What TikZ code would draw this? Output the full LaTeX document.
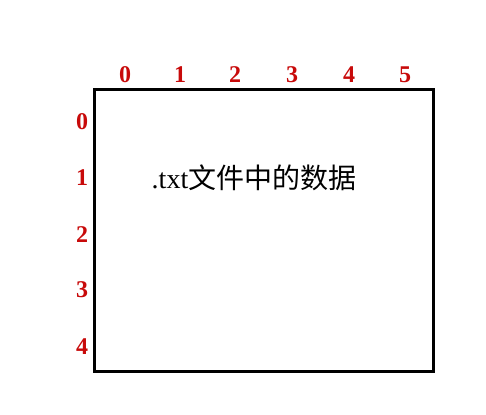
\documentclass[tikz,border=0pt]{standalone}
\usepackage{xcolor}
\usepackage{fontspec}
\usepackage{tikz}
\setmainfont{Liberation Serif}
\newfontfamily\cjk{Noto Sans CJK SC}
\definecolor{idxred}{RGB}{200,10,10}

\begin{document}
\begin{tikzpicture}[x=1pt, y=-1pt,
    idx/.style={text=idxred, font=\fontsize{24}{24}\selectfont\bfseries, inner sep=0pt}]
    \useasboundingbox (0,0) rectangle (486,414);
    \fill[white] (0,0) rectangle (486,414);
    \draw[line width=3pt] (94,90) rectangle (433,371);
    % column numbers
    \node[idx] (c0) at (125,75) {0};
    \node[idx] (c1) at (180,75) {1};
    \node[idx] (c2) at (235,75) {2};
    \node[idx] (c3) at (292,75) {3};
    \node[idx] (c4) at (349,75) {4};
    \node[idx] (c5) at (405,75) {5};
    % row numbers
    \node[idx] (r0) at (82,122) {0};
    \node[idx] (r1) at (82,178) {1};
    \node[idx] (r2) at (82,235) {2};
    \node[idx] (r3) at (82,290) {3};
    \node[idx] (r4) at (82,347) {4};
    \node[inner sep=0pt] (data) at (254,178) {\fontsize{28}{28}\selectfont.txt\cjk 文件中的数据};
\end{tikzpicture}
\end{document}
